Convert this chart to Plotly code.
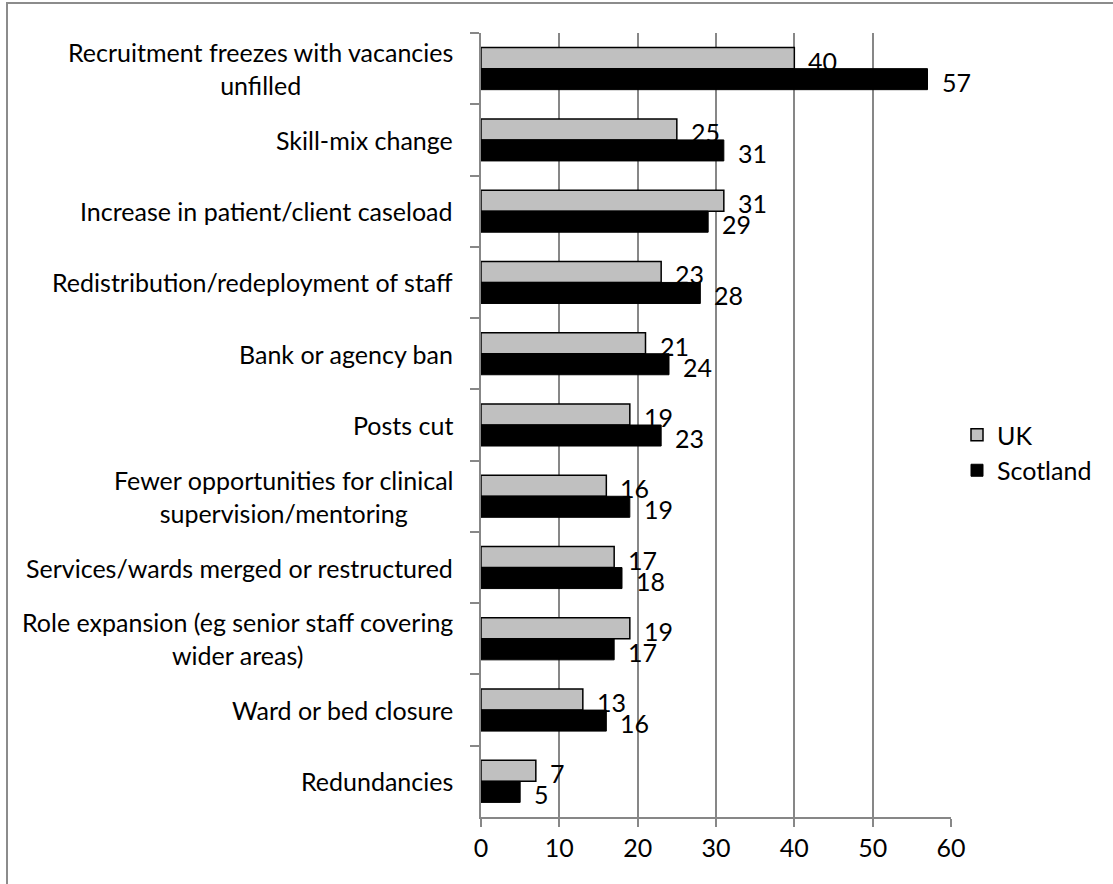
import plotly.graph_objects as go

# Survey responses (%), UK vs Scotland
categories = [
    "Recruitment freezes with vacancies<br>unfilled",
    "Skill-mix change",
    "Increase in patient/client caseload",
    "Redistribution/redeployment of staff",
    "Bank or agency ban",
    "Posts cut",
    "Fewer opportunities for clinical<br>supervision/mentoring",
    "Services/wards merged or restructured",
    "Role expansion (eg senior staff covering<br>wider areas)",
    "Ward or bed closure",
    "Redundancies",
]
uk_values = [40, 25, 31, 23, 21, 19, 16, 17, 19, 13, 7]
scotland_values = [57, 31, 29, 28, 24, 23, 19, 18, 17, 16, 5]
x_ticks = [0, 10, 20, 30, 40, 50, 60]

FONT = "Lato"
FS = 25
GRID = "#878787"

W, H = 1113, 884
L, R, T, B = 481, 1113 - 951, 33, 884 - 817
PW, PH = W - L - R, H - T - B

fig = go.Figure()
fig.add_trace(go.Bar(
    y=categories, x=uk_values, name="UK", orientation="h",
    marker=dict(color="#c0c0c0", line=dict(color="#000000", width=1.5)),
))
fig.add_trace(go.Bar(
    y=categories, x=scotland_values, name="Scotland", orientation="h",
    marker=dict(color="#000000", line=dict(color="#000000", width=1)),
))

annotations = []
# category labels, lines centred within each block
for cat in categories:
    annotations.append(dict(
        x=0, xref="paper", y=cat, yref="y", text=cat, showarrow=False,
        xanchor="right", yanchor="middle", align="center", xshift=-26,
        font=dict(family=FONT, size=FS, color="#000000"),
    ))
# value labels beside each bar
for cat, v in zip(categories, uk_values):
    annotations.append(dict(
        x=v, y=cat, text=str(v), showarrow=False, xanchor="left",
        yanchor="middle", xshift=12, yshift=8,
        font=dict(family=FONT, size=FS, color="#000000"),
    ))
for cat, v in zip(categories, scotland_values):
    annotations.append(dict(
        x=v, y=cat, text=str(v), showarrow=False, xanchor="left",
        yanchor="middle", xshift=12, yshift=-13,
        font=dict(family=FONT, size=FS, color="#000000"),
    ))

# chart-area frame
shapes = [dict(
    type="rect", xref="paper", yref="paper",
    x0=(7 - L) / PW, x1=(W + 20 - L) / PW,
    y0=-(B + 20) / PH, y1=1 + (T - 3) / PH,
    line=dict(color="#8c8c8c", width=2), fillcolor="rgba(0,0,0,0)", layer="below",
)]

fig.update_layout(
    width=W, height=H,
    margin=dict(l=L, r=R, t=T, b=B, pad=0),
    paper_bgcolor="white", plot_bgcolor="white",
    barmode="group", bargap=0.41, bargroupgap=0,
    font=dict(family=FONT, size=FS, color="#000000"),
    showlegend=True,
    legend=dict(
        x=(957 - L) / PW, xanchor="left", y=(817 - 412) / PH, yanchor="top",
        font=dict(family=FONT, size=FS, color="#000000"),
        bgcolor="rgba(0,0,0,0)", traceorder="normal",
    ),
    annotations=annotations,
    shapes=shapes,
    xaxis=dict(
        range=[0, 60], tickvals=x_ticks, ticktext=[str(t) for t in x_ticks],
        showgrid=True, gridcolor=GRID, gridwidth=2,
        showline=True, linecolor=GRID, linewidth=2,
        ticks="outside", ticklen=8, tickwidth=2, tickcolor=GRID,
        zeroline=False, tickfont=dict(family=FONT, size=FS, color="#000000"),
        fixedrange=True,
    ),
    yaxis=dict(
        categoryorder="array", categoryarray=categories, autorange="reversed",
        showticklabels=False, showgrid=False,
        showline=True, linecolor=GRID, linewidth=2,
        ticks="outside", ticklen=9, tickwidth=2, tickcolor=GRID,
        tickson="boundaries", zeroline=False, fixedrange=True,
    ),
)

fig.write_html("out.html")
